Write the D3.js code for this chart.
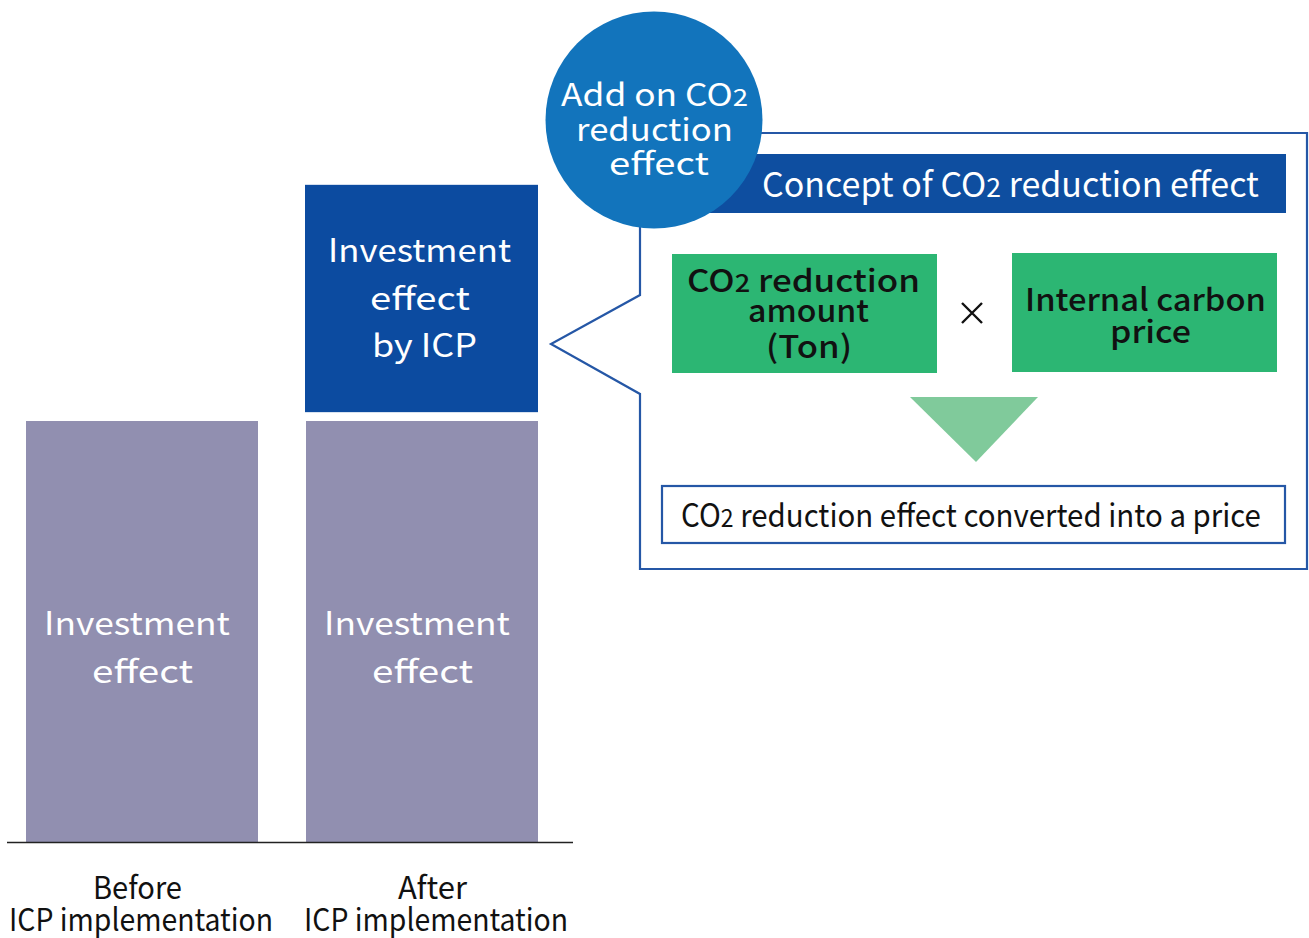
<!DOCTYPE html>
<html><head><meta charset="utf-8">
<script src="https://cdn.jsdelivr.net/npm/d3@7"></script>
<style>body{margin:0;background:#fff}svg{display:block}text{font-family:"Noto Sans CJK JP","Noto Sans",sans-serif}</style>
</head><body>
<script>
// ---- data ----
const categories = ["Before", "After"];
const categoryLines = [["Before", "ICP implementation"], ["After", "ICP implementation"]];
const baseValues = [100, 100];          // Investment effect
const icpValues = [0, 54];              // Investment effect by ICP (add-on)
const baseLabel = ["Investment", "effect"];
const icpLabel = ["Investment", "effect", "by ICP"];

const W = 1309, H = 938;
const svg = d3.select("body").append("svg").attr("width", W).attr("height", H);

const x = d3.scaleBand().domain(categories).range([2, 562]).paddingInner(48 / 280).paddingOuter(24 / 280);
const y = d3.scaleLinear().domain([0, 200]).range([842, 0]);
const gapUnits = 2.1;

function txt(g, s, cx, base, size, len, opts = {}) {
  const t = g.append("text").attr("x", 0).attr("y", 0).attr("text-anchor", "middle")
    .attr("font-size", size).attr("fill", opts.fill || "#fff").attr("font-weight", opts.weight || 400);
  const parts = s.split(/(CO2)/);
  parts.forEach(p => {
    if (p === "CO2") {
      t.append("tspan").text("CO");
      t.append("tspan").attr("font-size", size * 0.78).text("2");
    } else if (p) t.append("tspan").text(p);
  });
  let sx = 1;
  if (len) { const w = t.node().getComputedTextLength(); if (w > 0) sx = len / w; }
  t.attr("transform", `translate(${cx},${base}) scale(${sx},1)`);
  return t;
}

// bars
const g = svg.append("g");
g.selectAll("rect.base").data(categories).join("rect").attr("class", "base")
  .attr("x", d => x(d)).attr("width", x.bandwidth())
  .attr("y", (d, i) => y(baseValues[i])).attr("height", (d, i) => y(0) - y(baseValues[i]))
  .attr("fill", "#918fb0");
g.selectAll("rect.icp").data(categories.filter((d, i) => icpValues[i] > 0)).join("rect").attr("class", "icp")
  .attr("x", d => x(d) - 1).attr("width", x.bandwidth() + 1)
  .attr("y", d => { const i = categories.indexOf(d); return y(baseValues[i] + gapUnits + icpValues[i]); })
  .attr("height", d => { const i = categories.indexOf(d); return y(baseValues[i] + gapUnits) - y(baseValues[i] + gapUnits + icpValues[i]); })
  .attr("fill", "#0c4ba0");

// labels in bars
categories.forEach((c, i) => {
  const cx = x(c) + x.bandwidth() / 2;
  txt(g, baseLabel[0], cx - 5, 635, 32, 186);
  txt(g, baseLabel[1], cx + 0.5, 683, 32, 101);
  if (icpValues[i] > 0) {
    txt(g, icpLabel[0], cx - 2.5, 262, 32, 183);
    txt(g, icpLabel[1], cx - 2, 310, 32, 100);
    txt(g, icpLabel[2], cx + 2.5, 357, 32, 105);
  }
});

// baseline
svg.append("line").attr("x1", 7).attr("x2", 573).attr("y1", 842.5).attr("y2", 842.5)
  .attr("stroke", "#222").attr("stroke-width", 1.6);

// category labels
categories.forEach((c, i) => {
  txt(svg, categoryLines[i][0], i === 0 ? 137.5 : 432.5, 899, 31, i === 0 ? 89 : 69, { fill: "#111" });
  txt(svg, categoryLines[i][1], i === 0 ? 141 : 436, 931, 31, 264, { fill: "#111" });
});

// callout frame
svg.append("path")
  .attr("d", "M640,133 L1307,133 L1307,569 L640,569 L640,394 L551,344 L640,295 Z")
  .attr("fill", "#fff").attr("stroke", "#2557a6").attr("stroke-width", 2.2);

// header bar
svg.append("rect").attr("x", 660).attr("y", 154).attr("width", 626).attr("height", 59).attr("fill", "#0e4ea0");
txt(svg, "Concept of CO2 reduction effect", 1010.5, 197, 34, 497);

// circle
svg.append("circle").attr("cx", 654).attr("cy", 120).attr("r", 108.5).attr("fill", "#1274bc");
txt(svg, "Add on CO2", 654.5, 106, 31, 187);
txt(svg, "reduction", 654.5, 141, 31, 157);
txt(svg, "effect", 659, 175, 31, 100);

// green boxes
svg.append("rect").attr("x", 672).attr("y", 254).attr("width", 265).attr("height", 119).attr("fill", "#2cb673");
svg.append("rect").attr("x", 1012).attr("y", 253).attr("width", 265).attr("height", 119).attr("fill", "#2cb673");
const dk = { fill: "#111", weight: 500 };
txt(svg, "CO2 reduction", 803.5, 292, 31, 233, dk);
txt(svg, "amount", 808.5, 322, 31, 121, dk);
txt(svg, "(Ton)", 809, 358, 31, 86, dk);
txt(svg, "Internal carbon", 1145.5, 311, 31, 241, dk);
txt(svg, "price", 1150.5, 343, 31, 81, dk);

// multiply sign
svg.append("path").attr("d", "M962,303 L982,323 M982,303 L962,323").attr("stroke", "#111").attr("stroke-width", 2.4);

// triangle
svg.append("path").attr("d", "M910,397 L1038,397 L976,462 Z").attr("fill", "#80ca9b");

// result box
svg.append("rect").attr("x", 662).attr("y", 486).attr("width", 623).attr("height", 57)
  .attr("fill", "#fff").attr("stroke", "#2557a6").attr("stroke-width", 2.2);
txt(svg, "CO2 reduction effect converted into a price", 971, 527, 32, 580, { fill: "#111" });
</script>
</body></html>
